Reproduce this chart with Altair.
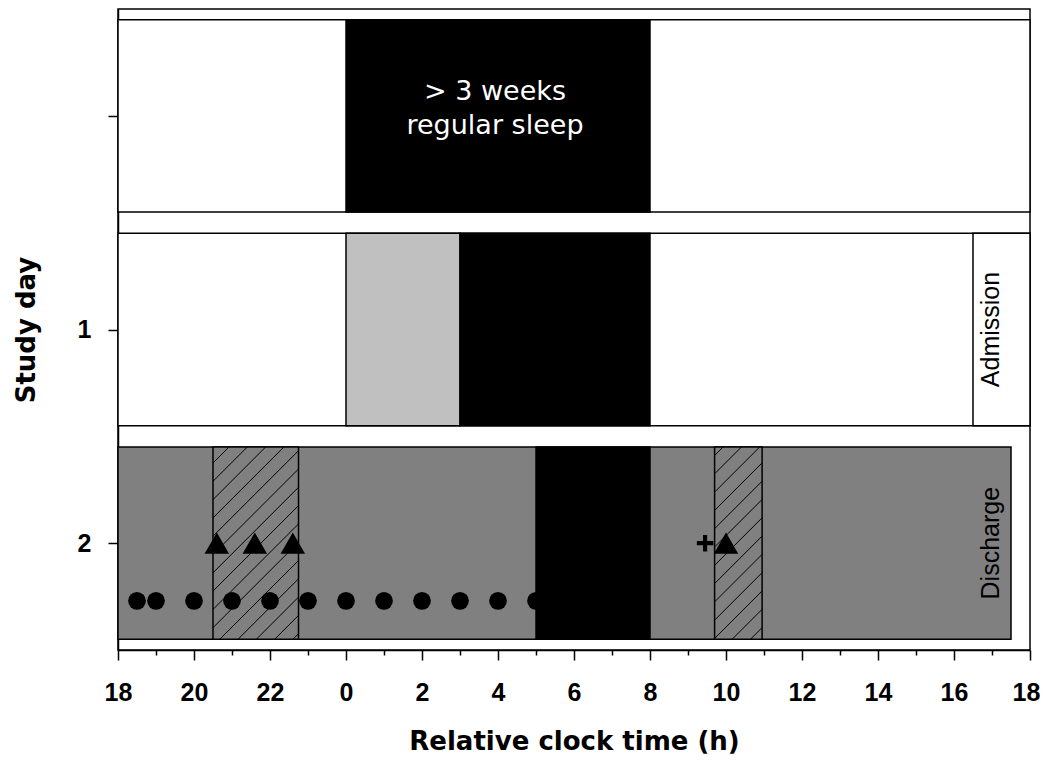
import math
import altair as alt
import pandas as pd

# ---------------- data ----------------
# hours after 18:00 of the first evening (0 = 18:00, 24 = 18:00 next day)
hour_ticks = list(range(0, 25))
clock_offset = 18
day_ticks = [0, 1, 2]
day_labels = ["", "1", "2"]

# schedule blocks per row
seg_row = [0, 0, 1, 1, 1, 1, 2, 2]
seg_start = [0, 6, 0, 6, 9, 22.5, 0, 11]
seg_end = [24, 14, 24, 9, 14, 24, 23.5, 14]
seg_fill = ["white", "black", "white", "#c0c0c0", "black", "white", "#808080", "black"]

# hatched periods on study day 2
hatch_row = 2
hatch_start = [2.5, 15.7]
hatch_end = [4.75, 16.95]

# events on study day 2
triangle_x = [2.6, 3.6, 4.6, 16.0]
triangle_y = [2, 2, 2, 2]
circle_x = [0.5, 1, 2, 3, 4, 5, 6, 7, 8, 9, 10, 11]
circle_y = [2.27] * 12
plus_x = [15.45]
plus_y = [2]

sleep_text = "> 3 weeks\nregular sleep"
event_text = ["Admission", "Discharge"]
event_row = [1, 2]

# ---------------- layout ----------------
W, H = 912, 641
BOX = 0.45
HATCH_GAP = 18.3

seg = pd.DataFrame(dict(row=seg_row, start=seg_start, end=seg_end, fill=seg_fill))
seg["y0"] = seg["row"] - BOX
seg["y1"] = seg["row"] + BOX

hat = pd.DataFrame(dict(start=hatch_start, end=hatch_end))
hat["y0"] = hatch_row - BOX
hat["y1"] = hatch_row + BOX

px_h = W / 24
px_d = H / 3
lines = []
for a, b in zip(hatch_start, hatch_end):
    X0, X1 = a * px_h, b * px_h
    Yt = (hatch_row - BOX + 0.5) * px_d
    Yb = (hatch_row + BOX + 0.5) * px_d
    k0 = math.ceil((X0 + Yt) / HATCH_GAP)
    k1 = math.floor((X1 + Yb) / HATCH_GAP)
    for k in range(k0, k1 + 1):
        c = k * HATCH_GAP
        xl = max(X0, c - Yb)
        xr = min(X1, c - Yt)
        if xr - xl > 0.3:
            lines.append(dict(x=xl / px_h, y=(c - xl) / px_d - 0.5,
                              x2=xr / px_h, y2=(c - xr) / px_d - 0.5))
hl = pd.DataFrame(lines)

circ = pd.DataFrame(dict(x=circle_x, y=circle_y))
tri = pd.DataFrame(dict(x=triangle_x, y=triangle_y))
plus = pd.DataFrame(dict(x=plus_x, y=plus_y))

sleep_block = seg[(seg["row"] == 0) & (seg["fill"] == "black")].iloc[0]
stext = pd.DataFrame(dict(x=[(sleep_block["start"] + sleep_block["end"]) / 2], y=[0], t=[sleep_text]))
adm = seg[(seg["row"] == 1)].iloc[-1]
etext = pd.DataFrame(dict(x=[(adm["start"] + adm["end"]) / 2] * 2, y=event_row, t=event_text))

xscale = alt.Scale(domain=[0, 24], nice=False, zero=False)
yscale = alt.Scale(domain=[-0.5, 2.5], reverse=True, nice=False, zero=False)

x_label_expr = f"datum.value % 2 == 0 ? '' + ((datum.value + {clock_offset}) % 24) : ''"
y_label_expr = " : ".join(f"datum.value == {v} ? '{l}'" for v, l in zip(day_ticks, day_labels)) + " : ''"

LABEL_FONT = "Liberation Sans, Arial, Helvetica, sans-serif"
TITLE_FONT = "DejaVu Sans, sans-serif"

x_axis = alt.Axis(
    values=hour_ticks, labelExpr=x_label_expr, title="Relative clock time (h)",
    tickSize={"condition": {"test": "datum.value % 2 == 1", "value": 5}, "value": 10},
    labelOffset={"condition": {"test": "datum.value == 24", "value": -4}, "value": 0},
    labelPadding=20, titlePadding=23, labelFlush=False, labelOverlap=False, grid=False,
    labelFont=LABEL_FONT, labelFontSize=25, labelFontWeight="bold",
    titleFont=TITLE_FONT, titleFontSize=26, titleFontWeight="bold",
)
y_axis = alt.Axis(
    values=day_ticks, labelExpr=y_label_expr, title="Study day",
    tickSize=10, labelPadding=17, titlePadding=38, grid=False,
    labelFont=LABEL_FONT, labelFontSize=25, labelFontWeight="bold",
    titleFont=TITLE_FONT, titleFontSize=26, titleFontWeight="bold",
)


def X(f):
    return alt.X(f, type="quantitative", scale=xscale, axis=x_axis)


def Y(f):
    return alt.Y(f, type="quantitative", scale=yscale, axis=y_axis)


rects = alt.Chart(seg).mark_rect(stroke="black", strokeWidth=1.5).encode(
    x=X("start"), x2="end", y=Y("y0"), y2="y1", fill=alt.Fill("fill:N", scale=None)
)
hatch_fill = alt.Chart(hat).mark_rect(fill="#808080").encode(
    x=X("start"), x2="end", y=Y("y0"), y2="y1"
)
hatch_lines = alt.Chart(hl).mark_rule(color="black", strokeWidth=1).encode(
    x=X("x"), x2="x2", y=Y("y"), y2="y2"
)
hatch_outline = alt.Chart(hat).mark_rect(fillOpacity=0, stroke="black", strokeWidth=1.5).encode(
    x=X("start"), x2="end", y=Y("y0"), y2="y1"
)
circles = alt.Chart(circ).mark_point(shape="circle", filled=True, size=315, color="black", opacity=1).encode(
    x=X("x"), y=Y("y")
)
triangles = alt.Chart(tri).mark_point(shape="triangle-up", filled=True, size=600, color="black", opacity=1).encode(
    x=X("x"), y=Y("y")
)
pluses = alt.Chart(plus).mark_point(
    shape="M-1,-0.25H1V0.25H-1Z M-0.25,-1H0.25V1H-0.25Z", filled=True, size=272, color="black", opacity=1
).encode(x=X("x"), y=Y("y"))
sleep_lbl = alt.Chart(stext).mark_text(
    font="DejaVu Sans, sans-serif", fontSize=27, color="white", align="center", baseline="middle",
    lineBreak="\n", lineHeight=34, dy=-24, dx=-3
).encode(x=X("x"), y=Y("y"), text="t:N")
event_lbl = alt.Chart(etext).mark_text(
    font=LABEL_FONT, fontSize=25, color="black", align="center", baseline="middle",
    angle=270, dy=-11
).encode(x=X("x"), y=Y("y"), text="t:N")

chart = alt.layer(
    rects, hatch_fill, hatch_lines, hatch_outline, circles, triangles, pluses, sleep_lbl, event_lbl
).properties(
    width=W, height=H,
    autosize=alt.AutoSizeParams(type="none"),
    padding={"left": 110, "top": 1, "right": 10, "bottom": 107},
).configure_view(
    stroke="black", strokeWidth=1.5
).configure_axis(
    domainColor="black", domainWidth=1.5, tickColor="black", tickWidth=1.5,
    labelColor="black", titleColor="black"
)

chart.save("out.html", embed_options={"renderer": "svg", "actions": False})
